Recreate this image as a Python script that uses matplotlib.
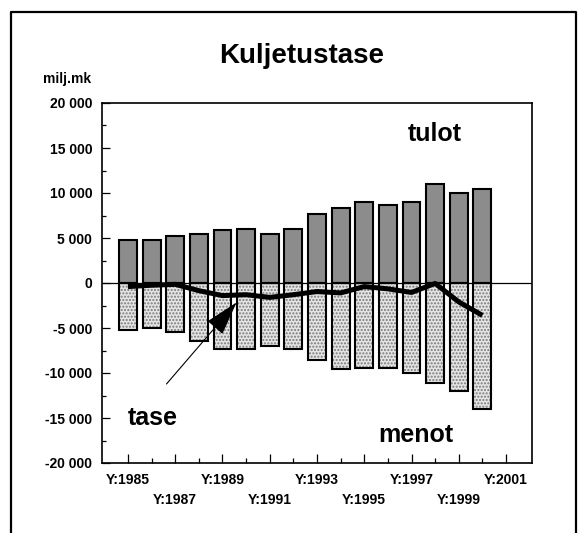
import matplotlib
matplotlib.use("Agg")
import matplotlib.pyplot as plt
from matplotlib.lines import Line2D
from matplotlib.ticker import FixedLocator, MultipleLocator, FuncFormatter

plt.rcParams['font.family'] = ['Liberation Sans', 'DejaVu Sans']
plt.rcParams['font.weight'] = 'bold'

years = list(range(1985, 2001))
tulot = [4800, 4750, 5200, 5450, 5900, 6000, 5400, 6000, 7650, 8350, 9000, 8700, 8950, 11000, 9950, 10400]
menot = [-5200, -5000, -5400, -6400, -7300, -7300, -7000, -7300, -8500, -9500, -9400, -9400, -10000, -11100, -12000, -14000]
tase = [-400, -250, -150, -850, -1400, -1300, -1600, -1300, -950, -1100, -400, -650, -1050, -50, -2100, -3600]
label_years = [1985, 1987, 1989, 1991, 1993, 1995, 1997, 1999, 2001]
title = "Kuljetustase"
unit = "milj.mk"

W, H = 586, 533
fig = plt.figure(figsize=(W / 100, H / 100), dpi=100)
ax = fig.add_axes([102 / W, 1 - 463 / H, (532 - 102) / W, (463 - 103) / H])

bw = 0.76
ax.bar(years, tulot, width=bw, color='#8c8c8c', edgecolor='black', linewidth=1.5, zorder=2)
ax.bar(years, menot, width=bw, color='#e4e4e4', edgecolor='#7a7a7a', hatch='.....', linewidth=0, zorder=2)
ax.bar(years, menot, width=bw, fill=False, edgecolor='black', linewidth=1.5, zorder=2.1)
ax.axhline(0, color='black', linewidth=0.9, zorder=3)
ax.plot(years, tase, color='black', linewidth=3.6, solid_joinstyle='round', solid_capstyle='butt', zorder=4)

ax.set_xlim(1983.9, 2002.1)
ax.set_ylim(-20000, 20000)

ax.yaxis.set_major_locator(MultipleLocator(5000))
ax.yaxis.set_minor_locator(MultipleLocator(2500))
ax.yaxis.set_major_formatter(FuncFormatter(lambda v, p: f"{int(v):,}".replace(",", " ")))
ax.xaxis.set_major_locator(FixedLocator(label_years))
ax.xaxis.set_minor_locator(FixedLocator([y for y in range(1986, 2001, 2)]))
ax.set_xticklabels([("Y:%d" % y) if i % 2 == 0 else ("\nY:%d" % y) for i, y in enumerate(label_years)])

ax.tick_params(axis='y', which='major', direction='in', length=6, width=0.9, pad=7, labelsize=10)
ax.tick_params(axis='y', which='minor', direction='in', length=3, width=0.9)
ax.tick_params(axis='x', which='major', direction='in', length=6.5, width=0.9, pad=7, labelsize=10)
ax.tick_params(axis='x', which='minor', direction='in', length=3.6, width=0.9)
for t in ax.get_xticklabels():
    t.set_linespacing(1.6)
    t.set_fontweight('bold')
for t in ax.get_yticklabels():
    t.set_fontweight('bold')
for s in ax.spines.values():
    s.set_linewidth(1.2)

ax.annotate("", xy=(1989.6, -2150), xytext=(1986.63, -11220),
            arrowprops=dict(arrowstyle="-|>,head_length=2.2,head_width=0.64",
                            mutation_scale=10, color='black', lw=0.8, shrinkA=0, shrinkB=0),
            zorder=5)

ax.text(1998.0, 16600, "tulot", ha='center', va='center', fontsize=18, fontweight='bold')
ax.text(1986.05, -14950, "tase", ha='center', va='center', fontsize=18, fontweight='bold')
ax.text(1997.2, -16850, "menot", ha='center', va='center', fontsize=18, fontweight='bold')

fig.text(301.5 / W, 1 - 63 / H, title, ha='center', va='baseline', fontsize=20, fontweight='bold')
fig.text(43 / W, 1 - 83 / H, unit, ha='left', va='baseline', fontsize=10, fontweight='bold')

# outer frame (left, top, right)
fx0, fx1, fy = 11 / W, 576 / W, 1 - 12 / H
fig.add_artist(Line2D([fx0, fx0, fx1, fx1], [0, fy, fy, 0], transform=fig.transFigure,
                      color='black', linewidth=1.6))

fig.savefig("out.png", dpi=100)
